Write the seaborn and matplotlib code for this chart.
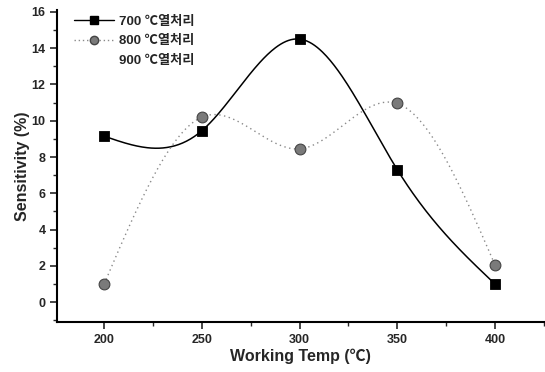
import numpy as np
import pandas as pd
import matplotlib
matplotlib.use("Agg")
import matplotlib.pyplot as plt
import seaborn as sns
from matplotlib.lines import Line2D
from matplotlib.ticker import MultipleLocator

temps = [200, 250, 300, 350, 400]
s700 = [9.15, 9.45, 14.5, 7.3, 1.0]
s800 = [1.0, 10.2, 8.45, 10.95, 2.05]
labels = ["700 ℃열처리", "800 ℃열처리", "900 ℃열처리"]


def natural_spline(x, y, n=300):
    x = np.asarray(x, float); y = np.asarray(y, float)
    k = len(x); h = np.diff(x)
    A = np.zeros((k, k)); b = np.zeros(k)
    A[0, 0] = A[-1, -1] = 1
    for i in range(1, k - 1):
        A[i, i - 1] = h[i - 1]; A[i, i] = 2 * (h[i - 1] + h[i]); A[i, i + 1] = h[i]
        b[i] = 3 * ((y[i + 1] - y[i]) / h[i] - (y[i] - y[i - 1]) / h[i - 1])
    c = np.linalg.solve(A, b)
    xs = np.linspace(x[0], x[-1], n); ys = np.empty_like(xs)
    for j, xv in enumerate(xs):
        i = min(np.searchsorted(x, xv, side="right") - 1, k - 2)
        d = xv - x[i]
        bi = (y[i + 1] - y[i]) / h[i] - h[i] * (2 * c[i] + c[i + 1]) / 3
        di = (c[i + 1] - c[i]) / (3 * h[i])
        ys[j] = y[i] + bi * d + c[i] * d ** 2 + di * d ** 3
    return xs, ys


sns.set_style("ticks")
plt.rcParams["font.family"] = ["Liberation Sans", "Noto Sans CJK KR", "DejaVu Sans"]

fig = plt.figure(figsize=(5.45, 3.72), dpi=100)
ax = fig.add_axes([0.105, 0.134, 0.893, 0.839])

x7, y7 = natural_spline(temps, s700)
x8, y8 = natural_spline(temps, s800)
sns.lineplot(x=x7, y=y7, ax=ax, color="black", lw=1.1, sort=False)
sns.lineplot(x=x8, y=y8, ax=ax, color="#8a8a8a", lw=1.0, linestyle=(0, (1, 2.5)), sort=False)
sns.scatterplot(x=temps, y=s700, ax=ax, marker="s", s=55, color="black", edgecolor="black", zorder=5)
sns.scatterplot(x=temps, y=s800, ax=ax, marker="o", s=60, color="#7a7a7a", edgecolor="#444444", linewidth=0.8, zorder=6)

ax.set_xlim(176, 425)
ax.set_ylim(-1.1, 16.1)
ax.xaxis.set_major_locator(MultipleLocator(50))
ax.xaxis.set_minor_locator(MultipleLocator(25))
ax.yaxis.set_major_locator(MultipleLocator(2))
ax.yaxis.set_minor_locator(MultipleLocator(1))
ax.tick_params(which="major", direction="out", length=5, width=1.2, labelsize=9)
ax.tick_params(which="minor", direction="out", length=3, width=1.0)
for t in ax.get_xticklabels() + ax.get_yticklabels():
    t.set_fontweight("bold")
for sp in ["top", "right"]:
    ax.spines[sp].set_visible(False)
for sp in ["left", "bottom"]:
    ax.spines[sp].set_linewidth(1.5)
    ax.spines[sp].set_color("black")

ax.set_xlabel("Working Temp (℃)", fontsize=11.5, fontweight="bold", labelpad=2)
ax.set_ylabel("Sensitivity (%)", fontsize=11.5, fontweight="bold", labelpad=1)

handles = [
    Line2D([], [], color="black", lw=1.0, marker="s", markersize=6),
    Line2D([], [], color="#8a8a8a", lw=1.0, linestyle=(0, (1, 2)), marker="o", markersize=6,
           markerfacecolor="#7a7a7a", markeredgecolor="#444444"),
    Line2D([], [], color="none"),
]
leg = ax.legend(handles, labels, loc="upper left", bbox_to_anchor=(0.01, 1.02), frameon=False,
                fontsize=9.5, handlelength=3.0, handletextpad=0.4, labelspacing=0.55)
for t in leg.get_texts():
    t.set_fontweight("bold")

fig.savefig("out.png", dpi=100)
